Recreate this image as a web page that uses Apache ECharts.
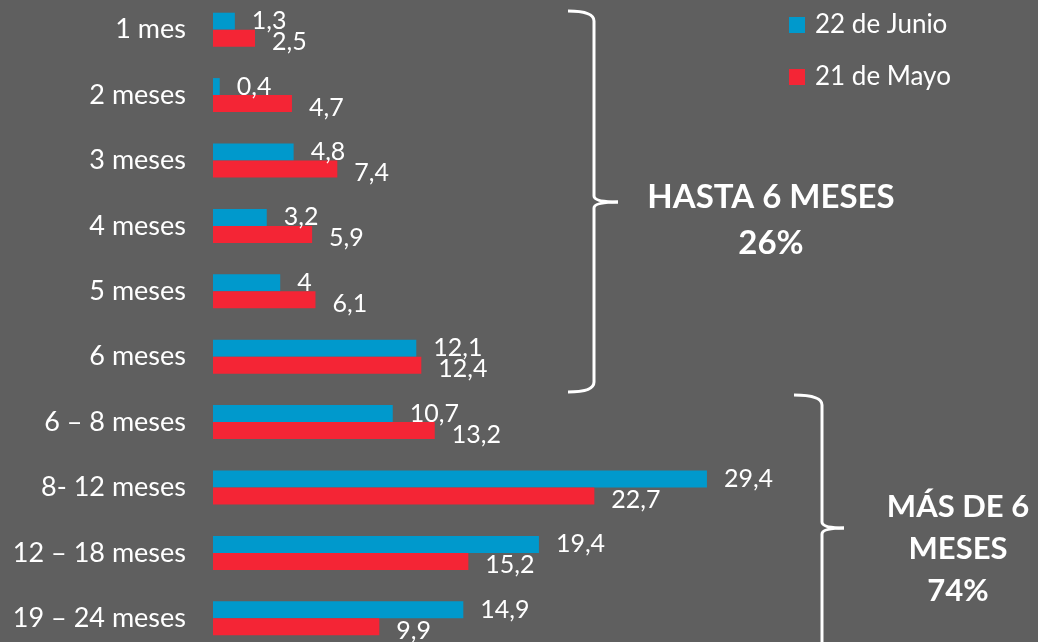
<!DOCTYPE html>
<html>
<head>
<meta charset="utf-8">
<style>
  html, body { margin: 0; padding: 0; background: #5f5f5f; }
  #chart { width: 1038px; height: 642px; }
</style>
<script src="https://cdn.jsdelivr.net/npm/echarts@6/dist/echarts.min.js"></script>
</head>
<body>
<div id="chart"></div>
<script>
// categorias y valores
const categorias = ['1 mes', '2 meses', '3 meses', '4 meses', '5 meses', '6 meses',
  '6 – 8 meses', '8- 12 meses', '12 – 18 meses', '19 – 24 meses']
const junio = [1.3, 0.4, 4.8, 3.2, 4, 12.1, 10.7, 29.4, 19.4, 14.9]
const mayo = [2.5, 4.7, 7.4, 5.9, 6.1, 12.4, 13.2, 22.7, 15.2, 9.9]
const nombres = ['22 de Junio', '21 de Mayo']

const fuente = 'Lato, "Open Sans", sans-serif'
const blanco = '#ffffff'

function etiqueta (offsetY) {
  return {
    show: true,
    position: 'right',
    distance: 17,
    offset: [0, offsetY],
    color: blanco,
    fontFamily: fuente,
    fontSize: 25,
    formatter: function (p) {
      return String(p.value).replace('.', ',')
    }
  }
}

// llave: x del borde, x de la linea, x de la punta, y arriba, y punta, y abajo
function llave (x0, x1, x2, yTop, yMid, yBot) {
  const st = { stroke: blanco, lineWidth: 3, fill: null }
  const curva = function (ax, ay, bx, by, cx, cy) {
    return { type: 'bezierCurve', shape: { x1: ax, y1: ay, x2: bx, y2: by, cpx1: cx, cpy1: cy }, style: st }
  }
  const linea = function (ax, ay, bx, by) {
    return { type: 'line', shape: { x1: ax, y1: ay, x2: bx, y2: by }, style: st }
  }
  return [
    curva(x0, yTop, x1, yTop + 10, x1, yTop),
    linea(x1, yTop + 10, x1, yMid - 6),
    curva(x1, yMid - 6, x2, yMid, x1, yMid),
    curva(x2, yMid, x1, yMid + 6, x1, yMid),
    linea(x1, yMid + 6, x1, yBot - 10),
    curva(x1, yBot - 10, x0, yBot, x1, yBot)
  ]
}

const chart = echarts.init(document.getElementById('chart'))
chart.setOption({
  backgroundColor: '#5f5f5f',
  animation: false,
  color: ['#0099cc', '#f42535'],
  legend: {
    orient: 'vertical',
    left: 789,
    top: 12,
    padding: 0,
    itemWidth: 16,
    itemHeight: 16,
    itemGap: 26,
    itemStyle: { borderWidth: 0 },
    icon: 'rect',
    data: nombres,
    textStyle: { color: blanco, fontFamily: fuente, fontSize: 26, padding: [0, 0, 0, 5] }
  },
  grid: { left: 213, top: -3, width: 672, height: 654, outerBoundsMode: 'none' },
  xAxis: {
    type: 'value',
    min: 0,
    max: 40,
    show: false
  },
  yAxis: {
    type: 'category',
    inverse: true,
    data: categorias,
    axisLine: { show: false },
    axisTick: { show: false },
    axisLabel: {
      color: blanco,
      fontFamily: fuente,
      fontSize: 27,
      margin: 27
    }
  },
  series: [
    {
      name: nombres[0],
      type: 'bar',
      data: junio,
      barWidth: 17,
      barGap: 0,
      label: etiqueta(0)
    },
    {
      name: nombres[1],
      type: 'bar',
      data: mayo,
      barWidth: 17,
      barGap: 0,
      label: etiqueta(4)
    }
  ],
  graphic: [
    { type: 'group', children: llave(568, 594, 618, 11, 202, 392) },
    { type: 'group', children: llave(794, 822, 844, 395, 528, 662) },
    {
      type: 'text',
      x: 771,
      y: 174,
      style: {
        text: 'HASTA 6 MESES\n26%',
        fill: blanco,
        font: 'bold 33px ' + fuente,
        lineHeight: 46,
        align: 'center',
        verticalAlign: 'top'
      }
    },
    {
      type: 'text',
      x: 958,
      y: 486,
      style: {
        text: 'MÁS DE 6\nMESES\n74%',
        fill: blanco,
        font: 'bold 31px ' + fuente,
        lineHeight: 42,
        align: 'center',
        verticalAlign: 'top'
      }
    }
  ]
})
</script>
</body>
</html>
